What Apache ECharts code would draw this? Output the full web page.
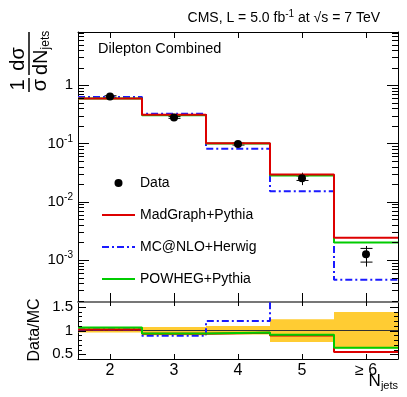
<!DOCTYPE html>
<html>
<head>
<meta charset="utf-8">
<script src="https://cdn.jsdelivr.net/npm/echarts@6/dist/echarts.min.js"></script>
<style>
html,body{margin:0;padding:0;background:#fff;}
#main{width:407px;height:397px;}
</style>
</head>
<body>
<div id="main"></div>
<script>
var FONT='Liberation Sans';

// bins of N jets
var binEdges=[1.5,2.5,3.5,4.5,5.5,6.5];
var binCenters=[2,3,4,5,6];
var xLabels=['2','3','4','5','\u2265 6'];

// 1/sigma dsigma/dNjets
var dataVal=[0.64,0.28,0.098,0.0254,0.00125];
var dataStatLo=[0.62,0.27,0.094,0.0232,0.00092];
var dataStatHi=[0.66,0.29,0.102,0.0278,0.00158];
var dataTotLo=[0.61,0.26,0.09,0.0193,0.00077];
var dataTotHi=[0.68,0.30,0.107,0.0315,0.00174];
var madgraph=[0.593,0.311,0.1005,0.0293,0.0024];
var mcatnlo=[0.63,0.323,0.0815,0.0152,0.00046];
var powheg=[0.59,0.305,0.0995,0.0283,0.0020];

// Data/MC
var ratioMadgraph=[1.02,0.93,0.955,0.895,0.545];
var ratioMcatnlo=[1.02,0.887,1.2,1.67,2.7];
var ratioPowheg=[1.063,0.937,0.957,0.908,0.635];
var bandLo=[0.96,0.90,0.915,0.76,0.62];
var bandHi=[1.07,1.075,1.097,1.237,1.39];

// ticks
var logMajor=[0.001,0.01,0.1,1];
var logMinor=[0.0002,0.0003,0.0004,0.0005,0.0006,0.0007,0.0008,0.0009,
  0.002,0.003,0.004,0.005,0.006,0.007,0.008,0.009,
  0.02,0.03,0.04,0.05,0.06,0.07,0.08,0.09,
  0.2,0.3,0.4,0.5,0.6,0.7,0.8,0.9,
  2,3,4,5,6,7,8];
var ratioMajor=[0.5,1,1.5];
var ratioMinor=[0.6,0.7,0.8,0.9,1.1,1.2,1.3,1.4];

function stepData(vals){
  var d=[];
  for(var i=0;i<vals.length;i++){
    d.push([binEdges[i],vals[i]]);
  }
  d.push([binEdges[vals.length],vals[vals.length-1]]);
  return d;
}

function tickSeries(xi,yi,vals,len){
  var x0=binEdges[0],x1=binEdges[binEdges.length-1];
  return {
    type:'custom',xAxisIndex:xi,yAxisIndex:yi,silent:true,z:5,
    data:vals.map(function(v){return [x0,v];}),
    renderItem:function(params,api){
      var l=api.coord([x0,api.value(1)]);
      var r=api.coord([x1,api.value(1)]);
      var y=Math.round(l[1])+0.5;
      return {type:'group',children:[
        {type:'line',shape:{x1:l[0],y1:y,x2:l[0]+len,y2:y},style:{stroke:'#000',lineWidth:1}},
        {type:'line',shape:{x1:r[0]-len,y1:y,x2:r[0],y2:y},style:{stroke:'#000',lineWidth:1}}
      ]};
    }
  };
}

function stepLine(name,xi,yi,vals,color,type){
  return {
    name:name,type:'line',xAxisIndex:xi,yAxisIndex:yi,step:'end',
    symbol:'none',data:stepData(vals),
    itemStyle:{color:color},
    lineStyle:{color:color,width:2,type:type||'solid'}
  };
}

var dashDot=[7,3,2,3];
var xBase={type:'value',min:binEdges[0],max:binEdges[binEdges.length-1],splitLine:{show:false},axisLabel:{show:false}};

function xAx(extra){ return Object.assign({},xBase,extra); }

var myChart=echarts.init(document.getElementById('main'));
var option={
  animation:false,
  textStyle:{fontFamily:FONT},
  grid:[
    {left:78,right:9,top:32,height:270},
    {left:78,right:9,top:302,height:57}
  ],
  xAxis:[
    xAx({gridIndex:0,position:'bottom',axisLine:{lineStyle:{color:'#777',width:2}},
      axisTick:{inside:true,length:9,customValues:binCenters,lineStyle:{color:'#000'}}}),
    xAx({gridIndex:0,position:'top',axisLine:{lineStyle:{color:'#000'}},
      axisTick:{inside:true,length:6,customValues:binCenters,lineStyle:{color:'#000'}}}),
    xAx({gridIndex:1,position:'top',axisLine:{show:false},
      axisTick:{inside:true,length:4,customValues:binCenters,lineStyle:{color:'#000'}}}),
    xAx({gridIndex:1,position:'bottom',axisLine:{lineStyle:{color:'#000'}},
      axisTick:{inside:true,length:5,customValues:binCenters,lineStyle:{color:'#000'}},
      axisLabel:{show:true,customValues:binCenters,fontSize:16,color:'#000',margin:4,fontFamily:FONT,
        formatter:function(v){return xLabels[binCenters.indexOf(v)];}}})
  ],
  yAxis:[
    {gridIndex:0,type:'log',min:0.00019,max:8.2,position:'left',
      axisLine:{show:true,lineStyle:{color:'#000'}},axisTick:{show:false},splitLine:{show:false},
      axisLabel:{customValues:logMajor,margin:5,color:'#000',fontSize:15,fontFamily:FONT,
        formatter:function(v){
          if(Math.abs(v-1)<1e-9) return '1';
          return '{b|10}{s|'+Math.round(Math.log10(v))+'}';
        },
        rich:{b:{fontSize:15,fontFamily:FONT,color:'#000'},s:{fontSize:10,fontFamily:FONT,color:'#000',padding:[0,0,9,0]}}}},
    {gridIndex:0,type:'log',min:0.00019,max:8.2,position:'right',
      axisLine:{show:true,lineStyle:{color:'#000'}},axisTick:{show:false},splitLine:{show:false},axisLabel:{show:false}},
    {gridIndex:1,type:'value',min:0.4,max:1.6,position:'left',
      axisLine:{show:true,lineStyle:{color:'#000'}},axisTick:{show:false},splitLine:{show:false},
      axisLabel:{customValues:ratioMajor,margin:5,color:'#000',fontSize:15,fontFamily:FONT}},
    {gridIndex:1,type:'value',min:0.4,max:1.6,position:'right',
      axisLine:{show:true,lineStyle:{color:'#000'}},axisTick:{show:false},splitLine:{show:false},axisLabel:{show:false}}
  ],
  legend:{
    left:96,top:171,orient:'vertical',itemWidth:33,itemHeight:8,itemGap:18,
    textStyle:{fontSize:14,color:'#000',fontFamily:FONT},
    data:[
      {name:'Data'},
      {name:'MadGraph+Pythia',itemStyle:{opacity:0}},
      {name:'MC@NLO+Herwig',itemStyle:{opacity:0}},
      {name:'POWHEG+Pythia',itemStyle:{opacity:0}}
    ]
  },
  graphic:[
    {type:'text',right:27,top:9,style:{
      text:'CMS, L = 5.0 fb{s|-1} at \u221As = 7 TeV',fontSize:14,fontFamily:FONT,fill:'#000',
      rich:{s:{fontSize:10,fontFamily:FONT,padding:[0,0,9,0]}}}},
    {type:'text',left:98,top:41,style:{text:'Dilepton Combined',fontSize:14.5,fontFamily:FONT,fill:'#000'}},
    {type:'group',x:29,y:92,rotation:Math.PI/2,children:[
      {type:'text',x:7,y:-1,style:{text:'1',fontSize:20,fontFamily:FONT,fill:'#000',align:'center',verticalAlign:'bottom'}},
      {type:'line',shape:{x1:0,y1:0,x2:14,y2:0},style:{stroke:'#000',lineWidth:1.5}},
      {type:'text',x:7,y:1,style:{text:'\u03C3',fontSize:20,fontFamily:FONT,fill:'#000',align:'center',verticalAlign:'top'}},
      {type:'text',x:33,y:-1,style:{text:'d\u03C3',fontSize:20,fontFamily:FONT,fill:'#000',align:'center',verticalAlign:'bottom'}},
      {type:'line',shape:{x1:17,y1:0,x2:60,y2:0},style:{stroke:'#000',lineWidth:1.5}},
      {type:'text',x:17,y:1,style:{text:'{n|dN}{s|jets}',fill:'#000',align:'left',verticalAlign:'top',
        rich:{n:{fontSize:20,fontFamily:FONT},s:{fontSize:12,fontFamily:FONT,padding:[10,0,0,0]}}}}
    ]},
    {type:'text',x:35,y:330,rotation:Math.PI/2,style:{text:'Data/MC',fontSize:16,fontFamily:FONT,fill:'#000',align:'center',verticalAlign:'middle'}},
    {type:'text',right:9,top:373,style:{text:'{n|N}{s|jets}',fill:'#000',
      rich:{n:{fontSize:17,fontFamily:FONT},s:{fontSize:11,fontFamily:FONT,padding:[9,0,0,0]}}}}
  ],
  series:[
    stepLine('MC@NLO+Herwig',0,0,mcatnlo,'#1a1aff',dashDot),
    stepLine('POWHEG+Pythia',0,0,powheg,'#00cc00'),
    stepLine('MadGraph+Pythia',0,0,madgraph,'#dd0000'),
    {
      type:'custom',xAxisIndex:0,yAxisIndex:0,silent:true,z:3,
      data:binCenters.map(function(c,i){return [c,dataTotLo[i],dataTotHi[i],dataStatLo[i],dataStatHi[i]];}),
      encode:{x:0,y:[1,2]},
      renderItem:function(params,api){
        var x=api.value(0);
        var lo=api.coord([x,api.value(1)]);
        var hi=api.coord([x,api.value(2)]);
        var sl=api.coord([x,api.value(3)]);
        var sh=api.coord([x,api.value(4)]);
        var cx=Math.round(lo[0])+0.5;
        var st={stroke:'#000',lineWidth:1};
        return {type:'group',children:[
          {type:'line',shape:{x1:cx,y1:lo[1],x2:cx,y2:hi[1]},style:st},
          {type:'line',shape:{x1:cx-6,y1:sl[1],x2:cx+6,y2:sl[1]},style:st},
          {type:'line',shape:{x1:cx-6,y1:sh[1],x2:cx+6,y2:sh[1]},style:st}
        ]};
      }
    },
    {
      name:'Data',type:'scatter',xAxisIndex:0,yAxisIndex:0,symbol:'circle',symbolSize:8,z:4,
      itemStyle:{color:'#000',opacity:1},
      data:binCenters.map(function(c,i){return [c,dataVal[i]];})
    },
    tickSeries(0,0,logMajor,11),
    tickSeries(0,0,logMinor,6),
    {
      type:'custom',xAxisIndex:3,yAxisIndex:2,silent:true,z:1,
      data:binCenters.map(function(c,i){return [binEdges[i],binEdges[i+1],bandLo[i],bandHi[i]];}),
      encode:{x:[0,1],y:[2,3]},
      renderItem:function(params,api){
        var p1=api.coord([api.value(0),api.value(3)]);
        var p2=api.coord([api.value(1),api.value(2)]);
        return {type:'rect',shape:{x:p1[0],y:p1[1],width:p2[0]-p1[0],height:p2[1]-p1[1]},
          style:{fill:'#ffcc33'}};
      }
    },
    {
      type:'line',xAxisIndex:3,yAxisIndex:2,symbol:'none',silent:true,
      data:[[binEdges[0],1],[binEdges[binEdges.length-1],1]],
      lineStyle:{color:'#333',width:1}
    },
    stepLine('MC@NLO+Herwig',3,2,ratioMcatnlo,'#1a1aff',dashDot),
    stepLine('MadGraph+Pythia',3,2,ratioMadgraph,'#dd0000'),
    stepLine('POWHEG+Pythia',3,2,ratioPowheg,'#00cc00'),
    tickSeries(3,2,ratioMajor,8),
    tickSeries(3,2,ratioMinor,4)
  ]
};
myChart.setOption(option);
</script>
</body>
</html>
